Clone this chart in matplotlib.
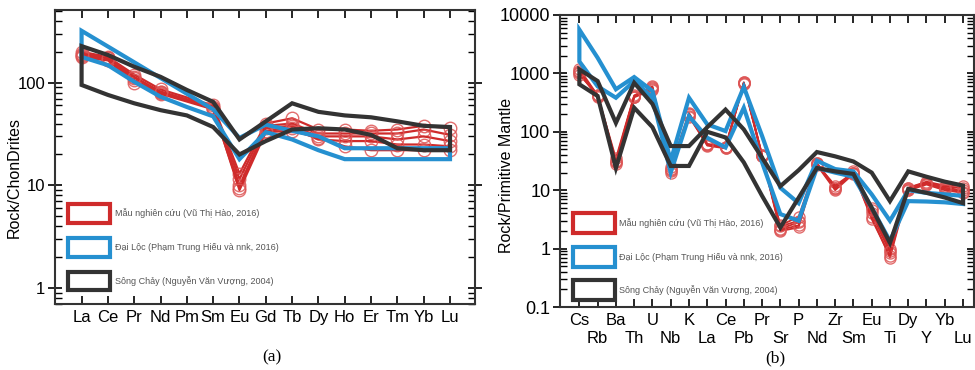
import matplotlib
matplotlib.use("Agg")
import matplotlib.pyplot as plt
import numpy as np
from matplotlib.patches import Polygon, Rectangle
from matplotlib.ticker import LogLocator, NullFormatter, FixedLocator

plt.rcParams['font.family'] = ['Liberation Sans', 'DejaVu Sans']

# ---------------- Panel (a): chondrite-normalised REE ----------------
ree = ["La", "Ce", "Pr", "Nd", "Pm", "Sm", "Eu", "Gd", "Tb", "Dy", "Ho", "Er", "Tm", "Yb", "Lu"]
ree_samples = ["La", "Ce", "Pr", "Nd", "Sm", "Eu", "Gd", "Tb", "Dy", "Ho", "Er", "Tm", "Yb", "Lu"]

a_red_1 = [200, 178, 120, 86, 60, 13.0, 40, 45, 35, 35, 34, 35, 38, 36]
a_red_2 = [188, 172, 112, 82, 58, 11.5, 38, 40, 32, 32, 32, 32, 35, 31]
a_red_3 = [182, 168, 106, 80, 56, 10.0, 36, 38, 30, 30, 30, 28, 30, 27]
a_red_4 = [176, 165, 100, 78, 55, 9.5, 34, 36, 28, 27, 27, 25, 25, 24]
a_red_5 = [192, 174, 114, 81, 57, 9.0, 33, 34, 29, 24, 22, 22, 22, 22]

a_blue_upper = [320, 225, 158, 111, 78, 55, 29, 39, 34, 30, 23, 23, 23, 23, 23]
a_blue_lower = [178, 148, 102, 73, 58, 47, 18, 33, 28, 22, 18, 18, 18, 18, 18]
a_black_upper = [227, 186, 143, 114, 85, 65, 28, 42, 63, 52, 48, 46, 42, 38, 37]
a_black_lower = [95, 76, 63, 54, 48, 37, 20, 27, 35, 36, 35, 31, 23, 22, 22]

# ---------------- Panel (b): primitive-mantle-normalised spider ----------------
spider = ["Cs", "Rb", "Ba", "Th", "U", "Nb", "K", "La", "Ce", "Pb", "Pr",
          "Sr", "P", "Nd", "Zr", "Sm", "Eu", "Ti", "Dy", "Y", "Yb", "Lu"]

b_red_1 = [1200, 420, 35, 420, 600, 25, 210, 62, 55, 700, 40, 2.5, 3.5, 29, 11.0, 21, 5.0, 1.00, 11.0, 14.0, 12.0, 12.0]
b_red_2 = [1050, 410, 30, 400, 560, 22, 200, 60, 54, 680, 39, 2.2, 2.8, 28, 10.5, 20, 4.0, 0.85, 10.5, 13.0, 11.0, 10.0]
b_red_3 = [1000, 400, 28, 390, 520, 20, 190, 58, 52, 690, 38, 2.0, 2.3, 27, 10.0, 19, 3.5, 0.70, 10.0, 12.5, 10.0, 9.0]
b_red_4 = [950, 430, 32, 410, 580, 23, 180, 60, 53, 650, 38, 2.4, 3.0, 28, 12.0, 20, 3.2, 0.75, 11.0, 13.5, 11.5, 11.0]
b_red_5 = [1100, 415, 30, 400, 550, 21, 205, 61, 56, 700, 40, 2.1, 2.5, 29, 11.0, 20, 4.5, 0.90, 10.0, 13.0, 10.5, 9.5]

b_blue_upper = [5600, 1850, 535, 865, 500, 32, 383, 134, 103, 585, 85, 11.0, 6.0, 32, 23, 21, 8.5, 3.0, 10.0, 9.0, 8.5, 8.0]
b_blue_lower = [1600, 600, 383, 735, 383, 20, 185, 79, 54, 258, 30, 3.9, 3.0, 24, 20, 17, 5.0, 1.35, 6.5, 6.4, 6.2, 5.8]
b_black_upper = [1170, 740, 142, 690, 300, 57, 57, 120, 240, 110, 36, 11.7, 22, 45, 38, 31, 20, 6.5, 21, 17, 14, 12]
b_black_lower = [650, 410, 24, 258, 120, 26, 26, 100, 80, 30, 8.0, 2.3, 7.4, 24, 21, 19, 5.0, 1.25, 10.5, 9.0, 7.5, 6.0]

legend_labels = ["Mẫu nghiên cứu (Vũ Thị Hào, 2016)",
                 "Đại Lộc (Phạm Trung Hiếu và nnk, 2016)",
                 "Sông Chảy (Nguyễn Văn Vượng, 2004)"]

RED = "#cf2b2b"
RED_M = "#dd5555"
BLUE = "#2590d0"
BLACK = "#333333"

fig = plt.figure(figsize=(9.75, 3.7), dpi=100)
axa = fig.add_axes([55/975, 1-304/370, 420/975, 294/370])
axb = fig.add_axes([560/975, 1-307/370, 414/975, 292/370])


def envelope(ax, upper, lower, color):
    n = len(upper)
    xs = list(range(n)) + list(range(n - 1, -1, -1))
    ys = list(upper) + list(lower)[::-1]
    poly = Polygon(np.column_stack([xs, ys]), closed=True, fill=False,
                   edgecolor=color, lw=3.0, joinstyle='miter', zorder=3)
    ax.add_patch(poly)


def legend(ax, rects, tx):
    colors = [RED, BLUE, BLACK]
    for (y0, y1), c, lab in zip(rects, colors, legend_labels):
        ax.add_patch(Rectangle((0.031, y0), 0.101, y1 - y0, transform=ax.transAxes,
                               fill=False, edgecolor=c, lw=3.0, zorder=5))
        ax.text(tx, (y0 + y1) / 2, lab, transform=ax.transAxes, fontsize=6.5,
                color="#555555", va='center', ha='left', zorder=5)


def style_axis(ax, ysize):
    ax.set_yscale('log')
    ax.yaxis.set_minor_locator(LogLocator(base=10, subs=np.arange(2, 10)))
    ax.yaxis.set_minor_formatter(NullFormatter())
    ax.tick_params(axis='y', which='major', direction='inout', length=10, width=1.2,
                   left=True, right=True, labelsize=ysize, pad=2)
    ax.tick_params(axis='y', which='minor', direction='in', length=5, width=1.0,
                   left=True, right=True)
    for s in ax.spines.values():
        s.set_linewidth(1.5)
        s.set_color("#333333")


# ----- panel a -----
xa_s = [ree.index(e) for e in ree_samples]
for vals in [a_red_1, a_red_2, a_red_3, a_red_4, a_red_5]:
    axa.plot(xa_s, vals, color=RED, lw=1.6, zorder=2)
    axa.plot(xa_s, vals, ls='none', marker='o', ms=9, mfc='none', mec=RED_M,
             mew=1.0, alpha=0.85, zorder=2)
envelope(axa, a_blue_upper, a_blue_lower, BLUE)
envelope(axa, a_black_upper, a_black_lower, BLACK)
style_axis(axa, 12)
axa.set_ylim(0.7, 510)
axa.set_xlim(-1.01, 14.95)
axa.set_xticks(range(len(ree)))
axa.set_xticklabels(ree)
axa.tick_params(axis='x', which='major', direction='in', length=6, width=1.2,
                top=True, bottom=True, labelsize=12, pad=4)
axa.set_yticks([1, 10, 100])
axa.set_yticklabels(["1", "10", "100"])
axa.set_ylabel("Rock/ChonDrites", fontsize=11.5)
axa.yaxis.set_label_coords(-0.078, 0.43)
legend(axa, [(0.276, 0.340), (0.160, 0.224), (0.048, 0.109)], 0.143)

# ----- panel b -----
xb = list(range(len(spider)))
for vals in [b_red_1, b_red_2, b_red_3, b_red_4, b_red_5]:
    axb.plot(xb, vals, color=RED, lw=1.3, zorder=2)
    axb.plot(xb, vals, ls='none', marker='o', ms=8, mfc='none', mec=RED_M,
             mew=1.0, alpha=0.85, zorder=2)
envelope(axb, b_blue_upper, b_blue_lower, BLUE)
envelope(axb, b_black_upper, b_black_lower, BLACK)
style_axis(axb, 13)
axb.set_ylim(0.1, 10000)
axb.set_xlim(-1.06, 21.6)
even = [i for i in xb if i % 2 == 0]
odd = [i for i in xb if i % 2 == 1]
axb.xaxis.set_major_locator(FixedLocator(even))
axb.xaxis.set_minor_locator(FixedLocator(odd))
axb.set_xticklabels([spider[i] for i in even])
axb.set_xticklabels([spider[i] for i in odd], minor=True)
axb.tick_params(axis='x', which='major', direction='in', length=6, width=1.2,
                top=True, bottom=True, labelsize=12, pad=4)
axb.tick_params(axis='x', which='minor', direction='in', length=6, width=1.2,
                top=True, bottom=True, labelsize=12, pad=17)
axb.set_yticks([0.1, 1, 10, 100, 1000, 10000])
axb.set_yticklabels(["0.1", "1", "10", "100", "1000", "10000"])
axb.set_ylabel("Rock/Primitive Mantle", fontsize=11.5)
axb.yaxis.set_label_coords(-0.112, 0.452)
legend(axb, [(0.253, 0.322), (0.137, 0.205), (0.024, 0.092)], 0.143)

fig.text(272/975, 1-357/370, "(a)", family=['Liberation Serif', 'DejaVu Serif'],
         fontsize=12.5, ha='center', va='center')
fig.text(775/975, 1-358/370, "(b)", family=['Liberation Serif', 'DejaVu Serif'],
         fontsize=12.5, ha='center', va='center')

fig.savefig("out.png", dpi=100)
